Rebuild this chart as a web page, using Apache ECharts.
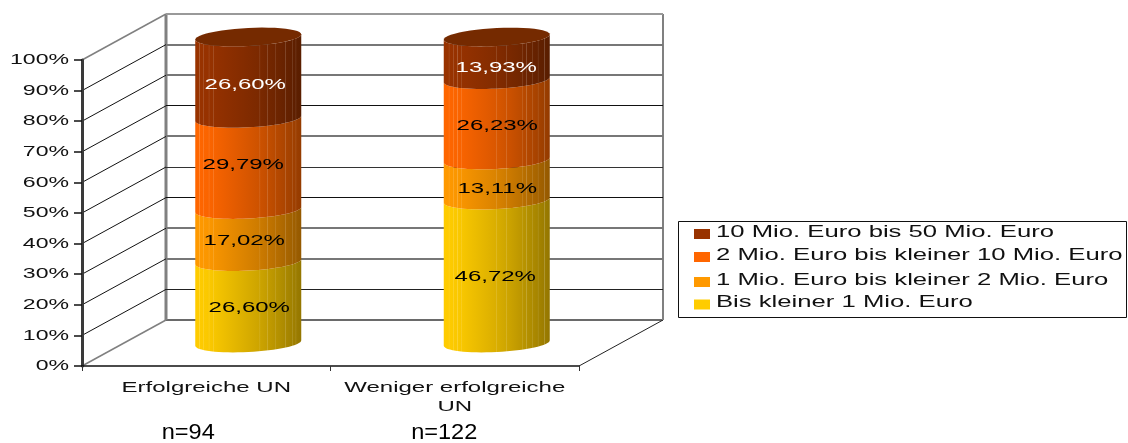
<!DOCTYPE html>
<html>
<head>
<meta charset="utf-8">
<style>html,body{margin:0;padding:0;background:#fff}#chart{width:1128px;height:443px}</style>
<script src="https://cdn.jsdelivr.net/npm/echarts@6/dist/echarts.min.js"></script>
</head>
<body>
<div id="chart"></div>
<script>
// Umsatzklassen je Gruppe, gestapelt von unten nach oben
const categories = ['Erfolgreiche UN', 'Weniger erfolgreiche\nUN'];
const sampleSizes = ['n=94', 'n=122'];
const seriesNames = ['Bis kleiner 1 Mio. Euro', '1 Mio. Euro bis kleiner 2 Mio. Euro', '2 Mio. Euro bis kleiner 10 Mio. Euro', '10 Mio. Euro bis 50 Mio. Euro'];
const under1 = [26.60, 46.72];
const from1to2 = [17.02, 13.11];
const from2to10 = [29.79, 26.23];
const from10to50 = [26.60, 13.93];
const yTicks = [0, 10, 20, 30, 40, 50, 60, 70, 80, 90, 100];
const seriesValues = [under1, from1to2, from2to10, from10to50];

const colors = ['#FFCC00', '#FF9900', '#FF6600', '#993300'];
const labelColors = ['#000', '#000', '#000', '#fff'];
// Rückwandlinien je Teilstrich: Farbe und Stärke
const wallColors = ['#6a6a6a', '#222', '#777', '#777', '#111', '#333', '#777', '#111', '#777', '#777', '#999'];
const wallWidths = [2, 1, 2, 2, 1, 1, 2, 1, 2, 2, 2];
// Feinversatz der Wertbeschriftungen je Klasse und Gruppe
const labelShiftX = [[2, -3, -4, -2], [-0.5, 1.5, 1.5, 0.5]];
const labelShiftY = [[0, 0, -4.5, 2], [0, 4, 1, 4]];
const sampleShift = [-18, -10.5];
const FONT = '"Liberation Sans", Arial, sans-serif';
const STRETCH = 1.56;      // Schrift ist breit gezogen wie im Diagrammlayout
const DEPTH = [84, -46];   // Versatz der Rückwand gegenüber der Vorderkante
const RX = 53, RY = 9, TILT = 0.05;
// helle Facettenkanten der Zylinder, als Anteil der Breite
const facets = [
  [.04, .08, .13, .17, .61, .68, .76, .85, .92, .95],
  [.05, .09, .13, .17, .5, .59, .74, .78, .84, .89, .95]
];

function shade(hex, k, toWhite) {
  const n = parseInt(hex.slice(1), 16);
  const ch = [n >> 16 & 255, n >> 8 & 255, n & 255].map(c => {
    const d = c * k;
    return Math.round(d + (255 - d) * (toWhite || 0));
  });
  return 'rgb(' + ch.join(',') + ')';
}
function sideFill(hex, cat) {
  const base = p => 1 - 0.42 * Math.pow(p, 1.5);
  const stops = [{offset: 0, color: shade(hex, 1)}];
  facets[cat].forEach(p => {
    stops.push({offset: p - 0.006, color: shade(hex, base(p - 0.006))});
    stops.push({offset: p, color: shade(hex, base(p), 0.2)});
    stops.push({offset: p + 0.006, color: shade(hex, base(p + 0.006))});
  });
  stops.push({offset: 1, color: shade(hex, 0.58)});
  return new echarts.graphic.LinearGradient(0, 0, 1, 0, stops);
}
function ellipsePoint(c, t) {
  return [c[0] + RX * Math.cos(t), c[1] + RY * Math.sin(t) - TILT * RX * Math.cos(t)];
}
// vordere Ellipsenhälfte, von links nach rechts
function frontArc(c) {
  const pts = [];
  for (let i = 0; i <= 32; i++) pts.push(ellipsePoint(c, Math.PI - Math.PI * i / 32));
  return pts;
}
function mid(api, cat, v) {
  const p = api.coord([cat, v]);
  return [p[0] + DEPTH[0] / 2, p[1] + DEPTH[1] / 2];
}
function stretchedText(text, x, y, size, fill, align, vAlign, scale, lineHeight) {
  return {
    type: 'text', x, y, scaleX: scale || STRETCH,
    style: {text, x: 0, y: 0, font: size + 'px ' + FONT, fill, align, verticalAlign: vAlign, lineHeight}
  };
}

// Wände, Boden und Gitterlinien der 3D-Kulisse
function renderGrid(params, api) {
  const i = params.dataIndex;
  const band = api.size([1, 0])[0];
  const v = yTicks[i];
  const p = api.coord([0, v]);
  const left = p[0] - band / 2;
  const right = api.coord([1, v])[0] + band / 2;
  const edge = v === 0 || v === 100;
  const back = p[1] + DEPTH[1];
  const backY = wallWidths[i] === 2 ? Math.round(back) : Math.floor(back) + 0.5;
  const children = [
    {type: 'line', shape: {x1: left, y1: p[1], x2: left + DEPTH[0], y2: back},
      style: {stroke: edge ? '#808080' : '#111', lineWidth: edge ? 1.5 : 1}},
    {type: 'line', shape: {x1: left + DEPTH[0], y1: backY, x2: right + DEPTH[0], y2: backY},
      style: {stroke: wallColors[i], lineWidth: wallWidths[i]}}
  ];
  if (v === 0) {
    const top = api.coord([0, 100])[1];
    children.push(
      {type: 'line', shape: {x1: right, y1: p[1], x2: right + DEPTH[0], y2: back}, style: {stroke: '#222', lineWidth: 1}},
      {type: 'line', shape: {x1: left + DEPTH[0], y1: top + DEPTH[1], x2: left + DEPTH[0], y2: back}, style: {stroke: '#808080', lineWidth: 3}},
      {type: 'line', shape: {x1: right + DEPTH[0], y1: top + DEPTH[1], x2: right + DEPTH[0], y2: back}, style: {stroke: '#808080', lineWidth: 2}}
    );
  }
  children.push(stretchedText(v + '%', left - 13, p[1], 15.4, '#111', 'right', 'middle', 1.5));
  return {type: 'group', children};
}

// ein Zylinderabschnitt je Gruppe, dazu Deckel und Wertbeschriftung
function renderSegment(s) {
  return function (params, api) {
    const cat = params.dataIndex;
    const start = api.value(1), end = api.value(2);
    const low = mid(api, cat, start), high = mid(api, cat, end);
    const children = [{
      type: 'polygon',
      shape: {points: frontArc(high).concat(frontArc(low).reverse())},
      style: {fill: sideFill(colors[s], cat)}
    }];
    if (s === colors.length - 1) {
      const ring = [];
      for (let i = 0; i < 48; i++) ring.push(ellipsePoint(high, 2 * Math.PI * i / 48));
      children.push({type: 'polygon', shape: {points: ring}, style: {fill: '#752A00'}});
    }
    const c = mid(api, cat, (start + end) / 2);
    children.push(stretchedText(
      seriesValues[s][cat].toFixed(2).replace('.', ',') + '%',
      c[0] - 1 + labelShiftX[cat][s], c[1] + 5 + labelShiftY[cat][s], 15.4, labelColors[s], 'center', 'middle'));
    return {type: 'group', children};
  };
}

// Kategorienamen und Fallzahlen unter der Achse
function renderCategory(params, api) {
  const i = params.dataIndex;
  const p = api.coord([i, 0]);
  return {type: 'group', children: [
    stretchedText(categories[i], p[0], p[1] + 12, 15.4, '#111', 'center', 'top', STRETCH, 19),
    stretchedText(sampleSizes[i], p[0] + sampleShift[i], p[1] + 67, 22, '#000', 'center', 'middle', 1.07)
  ]};
}

const segmentSeries = seriesValues.map((vals, s) => ({
  name: seriesNames[s],
  type: 'custom',
  silent: true,
  renderItem: renderSegment(s),
  encode: {x: 0, y: 2},
  data: vals.map((v, cat) => {
    let below = 0;
    for (let k = 0; k < s; k++) below += seriesValues[k][cat];
    return [cat, below, below + v];
  })
}));

// Legende, von der obersten Klasse abwärts
const legendRows = [3, 2, 1, 0];
const swatchY = [234, 257, 282, 304.5];
const textY = [233, 256, 281, 303];
const legendElements = [{
  type: 'rect', shape: {x: 678.5, y: 221.5, width: 448, height: 96},
  style: {fill: '#fff', stroke: '#111', lineWidth: 1}
}];
legendRows.forEach((s, i) => {
  legendElements.push({type: 'rect', shape: {x: 694, y: swatchY[i] - 5, width: 16, height: 10}, style: {fill: colors[s]}});
  legendElements.push({
    type: 'text', x: 716, y: textY[i], scaleX: 1.604,
    style: {text: seriesNames[s], x: 0, y: 0, font: '16px ' + FONT, fill: '#111', verticalAlign: 'middle'}
  });
});

const chart = echarts.init(document.getElementById('chart'), null, {renderer: 'canvas'});
chart.setOption({
  animation: false,
  backgroundColor: '#fff',
  grid: {left: 82, right: 549, top: 60, bottom: 77},
  xAxis: {
    type: 'category', data: categories,
    z: 5,
    axisLine: {lineStyle: {color: '#111', width: 1.5}},
    axisTick: {show: true, length: 5, lineStyle: {color: '#333'}},
    axisLabel: {show: false},
    splitLine: {show: false}
  },
  yAxis: {
    type: 'value', min: 0, max: 100, interval: 10,
    z: 5,
    axisLine: {show: true, lineStyle: {color: '#3a3a3a', width: 3}},
    axisTick: {show: true, length: 8, lineStyle: {color: '#111', width: 1.5}},
    axisLabel: {show: false},
    splitLine: {show: false}
  },
  graphic: {elements: legendElements},
  series: [
    {type: 'custom', silent: true, renderItem: renderGrid, encode: {x: 0, y: 1}, data: yTicks.map(v => [0, v])},
    ...segmentSeries,
    {type: 'custom', silent: true, renderItem: renderCategory, encode: {x: 0, y: 1}, data: categories.map((c, i) => [i, 0])}
  ]
});
</script>
</body>
</html>
